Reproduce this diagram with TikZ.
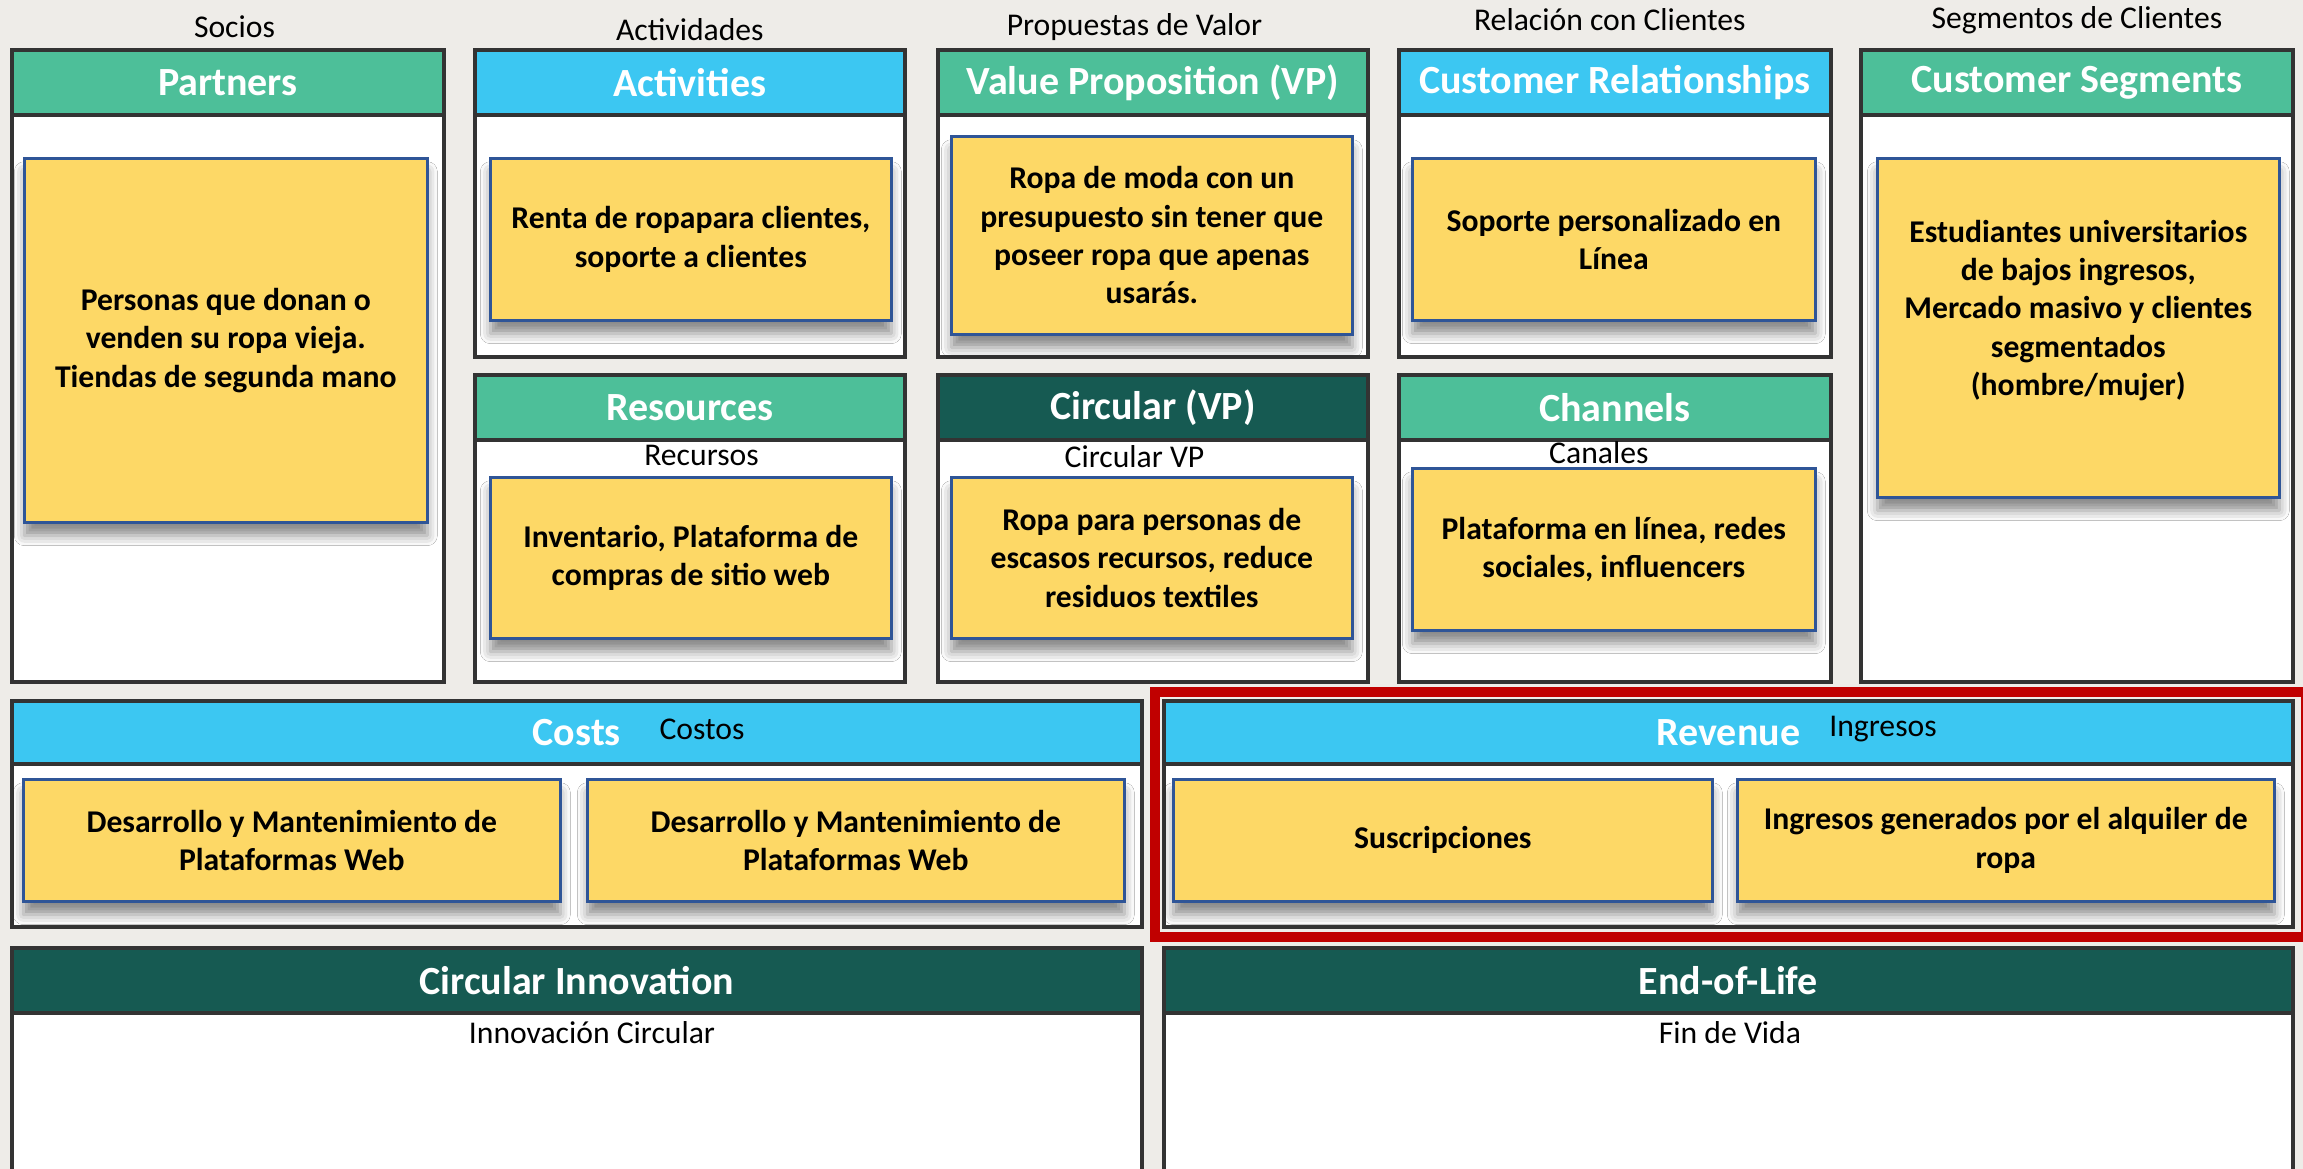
\documentclass[tikz,border=0pt]{standalone}
\usepackage{fontspec}
\setmainfont{Carlito}
\usetikzlibrary{positioning,shadows.blur}

\definecolor{paper}{HTML}{EEECE8}
\definecolor{greenhd}{HTML}{4DBF99}
\definecolor{bluehd}{HTML}{3CC7F2}
\definecolor{darkhd}{HTML}{165A52}
\definecolor{notefill}{HTML}{FDD866}
\definecolor{noteline}{HTML}{2F5597}
\definecolor{frame}{HTML}{333333}
\definecolor{redbox}{HTML}{C00000}

\begin{document}
\begin{tikzpicture}[x=0.3pt, y=-0.3pt,
    px/.style 2 args = {minimum width=#1*0.3pt, minimum height=#2*0.3pt},
    panel/.style = {draw=frame, line width=1.1pt, fill=white, anchor=north west, inner sep=0pt},
    hd/.style = {draw=frame, line width=1.1pt, anchor=north west, inner sep=0pt, text=white,
                 font=\bfseries\fontsize{12}{14}\selectfont},
    note/.style = {draw=noteline, line width=0.8pt, fill=notefill, anchor=north west, inner sep=4pt,
                   align=center, font=\bfseries\fontsize{9.5}{11.5}\selectfont,
                   blur shadow={shadow xshift=0pt, shadow yshift=-4pt, shadow blur radius=3pt, shadow opacity=45}},
    caplbl/.style = {inner sep=1pt, font=\fontsize{9.5}{11}\selectfont}]
		\useasboundingbox (0,0) rectangle (2303,1169);
		\fill[paper] (0,0) rectangle (2303,1169);

		% top row
		\node[panel, px={432}{632}] (ptr) at (10,48) {};
		\node[hd, fill=greenhd, px={432}{65}] (ptrhd) at (10,48) {Partners};
		\node[note, px={403}{364}] (ptrnote) at (23,157) {Personas que donan o\\venden su ropa vieja.\\Tiendas de segunda mano};
		\node[caplbl, above=2pt of ptrhd, xshift=2pt] (ptrcap) {Socios};

		\node[panel, px={430}{307}] (act) at (473,48) {};
		\node[hd, fill=bluehd, px={430}{65}] (acthd) at (473,48) {Activities};
		\node[note, px={401}{162}] (actnote) at (489,157) {Renta de ropapara clientes,\\soporte a clientes};
		\node[caplbl, above=1pt of acthd] (actcap) {Actividades};

		\node[panel, px={430}{307}] (res) at (473,373) {};
		\node[hd, fill=greenhd, px={430}{65}] (reshd) at (473,373) {Resources};
		\node[note, px={401}{161}] (resnote) at (489,476) {Inventario, Plataforma de\\compras de sitio web};
		\node[caplbl, below=0pt of reshd, xshift=3.5pt] (rescap) {Recursos};

		\node[panel, px={430}{307}] (vp) at (936,48) {};
		\node[hd, fill=greenhd, px={430}{65}] (vphd) at (936,48) {Value Proposition (VP)};
		\node[note, px={401}{198}] (vpnote) at (950,135) {Ropa de moda con un\\presupuesto sin tener que\\poseer ropa que apenas\\usarás.};
		\node[caplbl, above=1pt of vphd, xshift=-5.5pt] (vpcap) {Propuestas de Valor};

		\node[panel, px={430}{307}] (cvp) at (936,373) {};
		\node[hd, fill=darkhd, px={430}{65}] (cvphd) at (936,373) {Circular (VP)};
		\node[note, px={401}{161}] (cvpnote) at (950,476) {Ropa para personas de\\escasos recursos, reduce\\residuos textiles};
		\node[caplbl, below=0pt of cvphd, xshift=-5.5pt] (cvpcap) {Circular VP};

		\node[panel, px={432}{307}] (cr) at (1397,48) {};
		\node[hd, fill=bluehd, px={432}{65}] (crhd) at (1397,48) {Customer Relationships};
		\node[note, px={403}{162}] (crnote) at (1411,157) {Soporte personalizado en\\Línea};
		\node[caplbl, above=4pt of crhd, xshift=-1.5pt] (crcap) {Relación con Clientes};

		\node[panel, px={432}{307}] (chn) at (1397,373) {};
		\node[hd, fill=greenhd, px={432}{65}] (chnhd) at (1397,373) {Channels};
		\node[note, px={403}{162}] (chnnote) at (1411,467) {Plataforma en línea, redes\\sociales, influencers};
		\node[caplbl, below=-1.2pt of chnhd, xshift=-4.8pt] (chncap) {Canales};

		\node[panel, px={432}{632}] (cs) at (1859,48) {};
		\node[hd, fill=greenhd, px={432}{65}] (cshd) at (1859,48) {Customer Segments};
		\node[note, px={402}{339}, text depth=12pt] (csnote) at (1876,157) {Estudiantes universitarios\\de bajos ingresos,\\Mercado masivo y clientes\\segmentados\\(hombre/mujer)};
		\node[caplbl, above=3pt of cshd] (cscap) {Segmentos de Clientes};

		% costs and revenue
		\node[draw=redbox, line width=3pt, anchor=north west, inner sep=0pt, px={1151}{245}] (revframe) at (1150,687) {};

		\node[panel, px={1130}{226}] (cost) at (10,699) {};
		\node[hd, fill=bluehd, px={1130}{63}] (costhd) at (10,699) {Costs};
		\node[caplbl] (costcap) at (702,729) {Costos};
		\node[note, px={537}{122}] (costnote1) at (22,778) {Desarrollo y Mantenimiento de\\Plataformas Web};
		\node[note, px={537}{122}] (costnote2) at (586,778) {Desarrollo y Mantenimiento de\\Plataformas Web};

		\node[panel, px={1129}{226}] (rev) at (1162,699) {};
		\node[hd, fill=bluehd, px={1129}{63}] (revhd) at (1162,699) {Revenue};
		\node[caplbl] (revcap) at (1883,729) {Ingresos};
		\node[note, px={539}{122}] (revnote1) at (1172,778) {Suscripciones};
		\node[note, px={537}{122}] (revnote2) at (1736,778) {Ingresos generados por el alquiler de\\ropa};

		% circular rows
		\node[panel, px={1130}{260}] (ci) at (10,946) {};
		\node[hd, fill=darkhd, px={1130}{65}] (cihd) at (10,946) {Circular Innovation};
		\node[caplbl] (cicap) at (592,1033) {Innovación Circular};

		\node[panel, px={1129}{260}] (eol) at (1162,946) {};
		\node[hd, fill=darkhd, px={1129}{65}] (eolhd) at (1162,946) {End-of-Life};
		\node[caplbl] (eolcap) at (1730,1033) {Fin de Vida};
	\end{tikzpicture}
\end{document}
